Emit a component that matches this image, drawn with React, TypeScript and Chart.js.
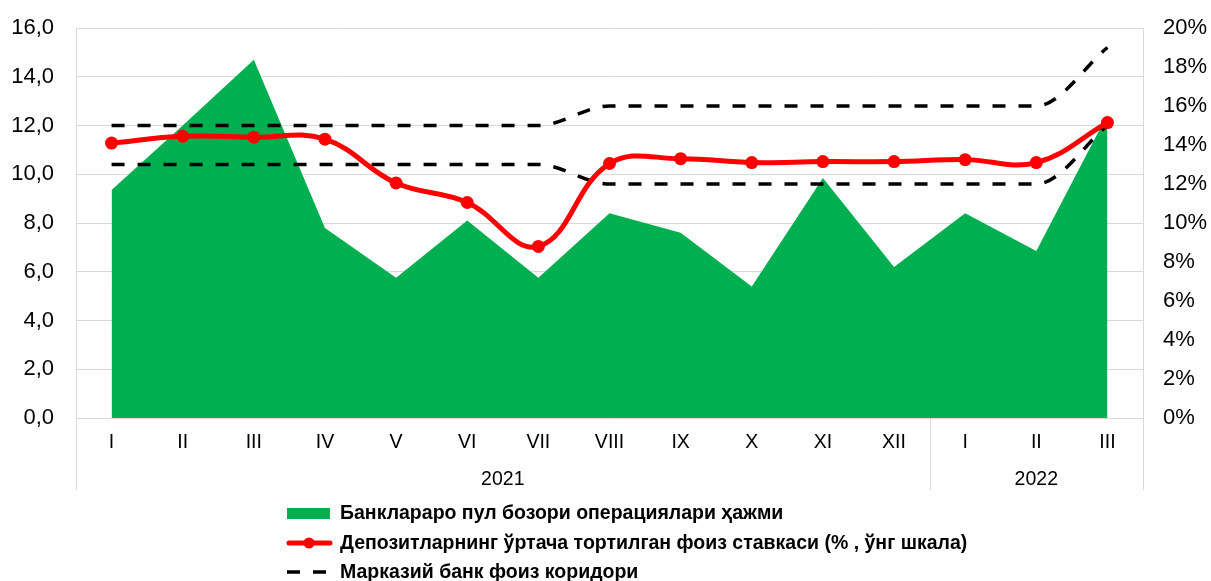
import React, { useEffect, useRef } from 'react';
import { Chart, registerables } from 'chart.js';

Chart.register(...registerables);

const months = ['I', 'II', 'III', 'IV', 'V', 'VI', 'VII', 'VIII', 'IX', 'X', 'XI', 'XII', 'I', 'II', 'III'];
const yearLabels = ['2021', '2022'];
const yearStarts = [0, 12];
const yearEnds = [11, 14];

// Interbank money market volume (left axis)
const volume = [9.35, 12.0, 14.7, 7.8, 5.75, 8.1, 5.75, 8.4, 7.6, 5.4, 9.85, 6.2, 8.4, 6.85, 12.45];
// Weighted average deposit rate (% right axis)
const depositRate = [14.1, 14.45, 14.4, 14.3, 12.05, 11.05, 8.8, 13.05, 13.3, 13.1, 13.15, 13.15, 13.25, 13.1, 15.15];
// Central bank interest corridor (% right axis)
const corridorUpper = [15, 15, 15, 15, 15, 15, 15, 16, 16, 16, 16, 16, 16, 16, 19];
const corridorLower = [13, 13, 13, 13, 13, 13, 13, 12, 12, 12, 12, 12, 12, 12, 15];

const legendLabels = [
  'Банклараро пул бозори операциялари ҳажми',
  'Депозитларнинг ўртача тортилган фоиз ставкаси (% , ўнг шкала)',
  'Марказий банк фоиз коридори',
];

const GREEN = '#00B050';
const RED = '#FF0000';
const GRID = '#d9d9d9';
const FONT = '"Liberation Sans", Arial, sans-serif';

const overlay = {
  id: 'overlay',
  afterDraw(chart: any) {
    const { ctx, chartArea, scales } = chart;
    const x = scales.x;
    const bottomY = 490;
    ctx.save();
    ctx.strokeStyle = GRID;
    ctx.lineWidth = 1;
    const vline = (px: number, y0: number, y1: number) => {
      const xx = Math.round(px) + 0.5;
      ctx.beginPath();
      ctx.moveTo(xx, y0);
      ctx.lineTo(xx, y1);
      ctx.stroke();
    };
    vline(chartArea.left, chartArea.top, bottomY);
    vline(chartArea.right, chartArea.top, bottomY);
    for (let i = 1; i < yearStarts.length; i++) {
      const s = yearStarts[i];
      const px = (x.getPixelForValue(s - 1) + x.getPixelForValue(s)) / 2;
      vline(px, chartArea.bottom, bottomY);
    }
    // year labels
    ctx.fillStyle = '#000';
    ctx.font = `19.5px ${FONT}`;
    ctx.textAlign = 'center';
    ctx.textBaseline = 'middle';
    for (let i = 0; i < yearLabels.length; i++) {
      const cx = (x.getPixelForValue(yearStarts[i]) + x.getPixelForValue(yearEnds[i])) / 2;
      ctx.fillText(yearLabels[i], cx, 480);
    }
    // legend
    const lx = 287;
    const tx = 340;
    const rows = [513, 543, 572];
    ctx.fillStyle = GREEN;
    ctx.fillRect(lx, rows[0] - 5, 43, 11);
    ctx.strokeStyle = RED;
    ctx.lineWidth = 5;
    ctx.lineCap = 'round';
    ctx.beginPath();
    ctx.moveTo(lx + 2, rows[1]);
    ctx.lineTo(lx + 43, rows[1]);
    ctx.stroke();
    ctx.fillStyle = RED;
    ctx.beginPath();
    ctx.arc(lx + 22, rows[1], 5.5, 0, Math.PI * 2);
    ctx.fill();
    ctx.strokeStyle = '#000';
    ctx.lineWidth = 3.5;
    ctx.lineCap = 'butt';
    ctx.beginPath();
    ctx.moveTo(lx, rows[2]);
    ctx.lineTo(lx + 13, rows[2]);
    ctx.moveTo(lx + 26, rows[2]);
    ctx.lineTo(lx + 39, rows[2]);
    ctx.stroke();
    ctx.fillStyle = '#000';
    ctx.font = `bold 19.5px ${FONT}`;
    ctx.textAlign = 'left';
    ctx.textBaseline = 'middle';
    legendLabels.forEach((t, i) => ctx.fillText(t, tx, rows[i] + 1));
    ctx.restore();
  },
};

export default function App() {
  const ref = useRef<HTMLCanvasElement>(null);
  useEffect(() => {
    document.body.style.margin = '0';
    const canvas = ref.current!;
    const chart = new Chart(canvas, {
      type: 'line',
      data: {
        labels: months,
        datasets: [
          {
            label: legendLabels[1],
            data: depositRate,
            yAxisID: 'y1',
            borderColor: RED,
            backgroundColor: RED,
            borderWidth: 5,
            pointRadius: 6.5,
            pointBackgroundColor: RED,
            pointBorderWidth: 0,
            tension: 0.4,
            fill: false,
            order: 1,
          },
          {
            label: legendLabels[2],
            data: corridorUpper,
            yAxisID: 'y1',
            borderColor: '#000',
            borderWidth: 3.5,
            borderDash: [13, 13],
            pointRadius: 0,
            cubicInterpolationMode: 'monotone',
            fill: false,
            order: 2,
          },
          {
            label: legendLabels[2] + ' (2)',
            data: corridorLower,
            yAxisID: 'y1',
            borderColor: '#000',
            borderWidth: 3.5,
            borderDash: [13, 13],
            pointRadius: 0,
            cubicInterpolationMode: 'monotone',
            fill: false,
            order: 2,
          },
          {
            label: legendLabels[0],
            data: volume,
            yAxisID: 'y',
            borderWidth: 0,
            borderColor: GREEN,
            backgroundColor: GREEN,
            pointRadius: 0,
            tension: 0,
            fill: 'origin',
            order: 3,
          },
        ],
      },
      options: {
        responsive: false,
        animation: false,
        layout: { padding: { top: 28, bottom: 0, left: 0, right: 0 } },
        plugins: {
          legend: { display: false },
          tooltip: { enabled: false },
        },
        scales: {
          x: {
            type: 'category',
            offset: true,
            grid: { display: false, drawTicks: false },
            border: { display: false },
            ticks: {
              color: '#000',
              font: { family: FONT, size: 19.5 },
              padding: 13,
              maxRotation: 0,
              autoSkip: false,
            },
            afterFit: (s: any) => {
              s.height = 163;
            },
          },
          y: {
            position: 'left',
            min: 0,
            max: 16,
            grid: { color: GRID, lineWidth: 1, drawTicks: false },
            border: { display: false },
            ticks: {
              stepSize: 2,
              color: '#000',
              font: { family: FONT, size: 22 },
              padding: 22,
              callback: (v: any) => Number(v).toFixed(1).replace('.', ','),
            },
            afterFit: (s: any) => {
              s.width = 76;
              s.paddingTop = 0;
              s.paddingBottom = 0;
            },
          },
          y1: {
            position: 'right',
            min: 0,
            max: 20,
            grid: { display: false, drawTicks: false },
            border: { display: false },
            ticks: {
              stepSize: 2,
              color: '#000',
              font: { family: FONT, size: 22 },
              padding: 20,
              callback: (v: any) => `${v}%`,
            },
            afterFit: (s: any) => {
              s.width = 68;
              s.paddingTop = 0;
              s.paddingBottom = 0;
            },
          },
        },
      },
      plugins: [overlay],
    });
    return () => chart.destroy();
  }, []);
  return (
    <div style={{ width: 1211, height: 581 }}>
      <canvas ref={ref} width={1211} height={581} style={{ display: 'block' }} />
    </div>
  );
}
